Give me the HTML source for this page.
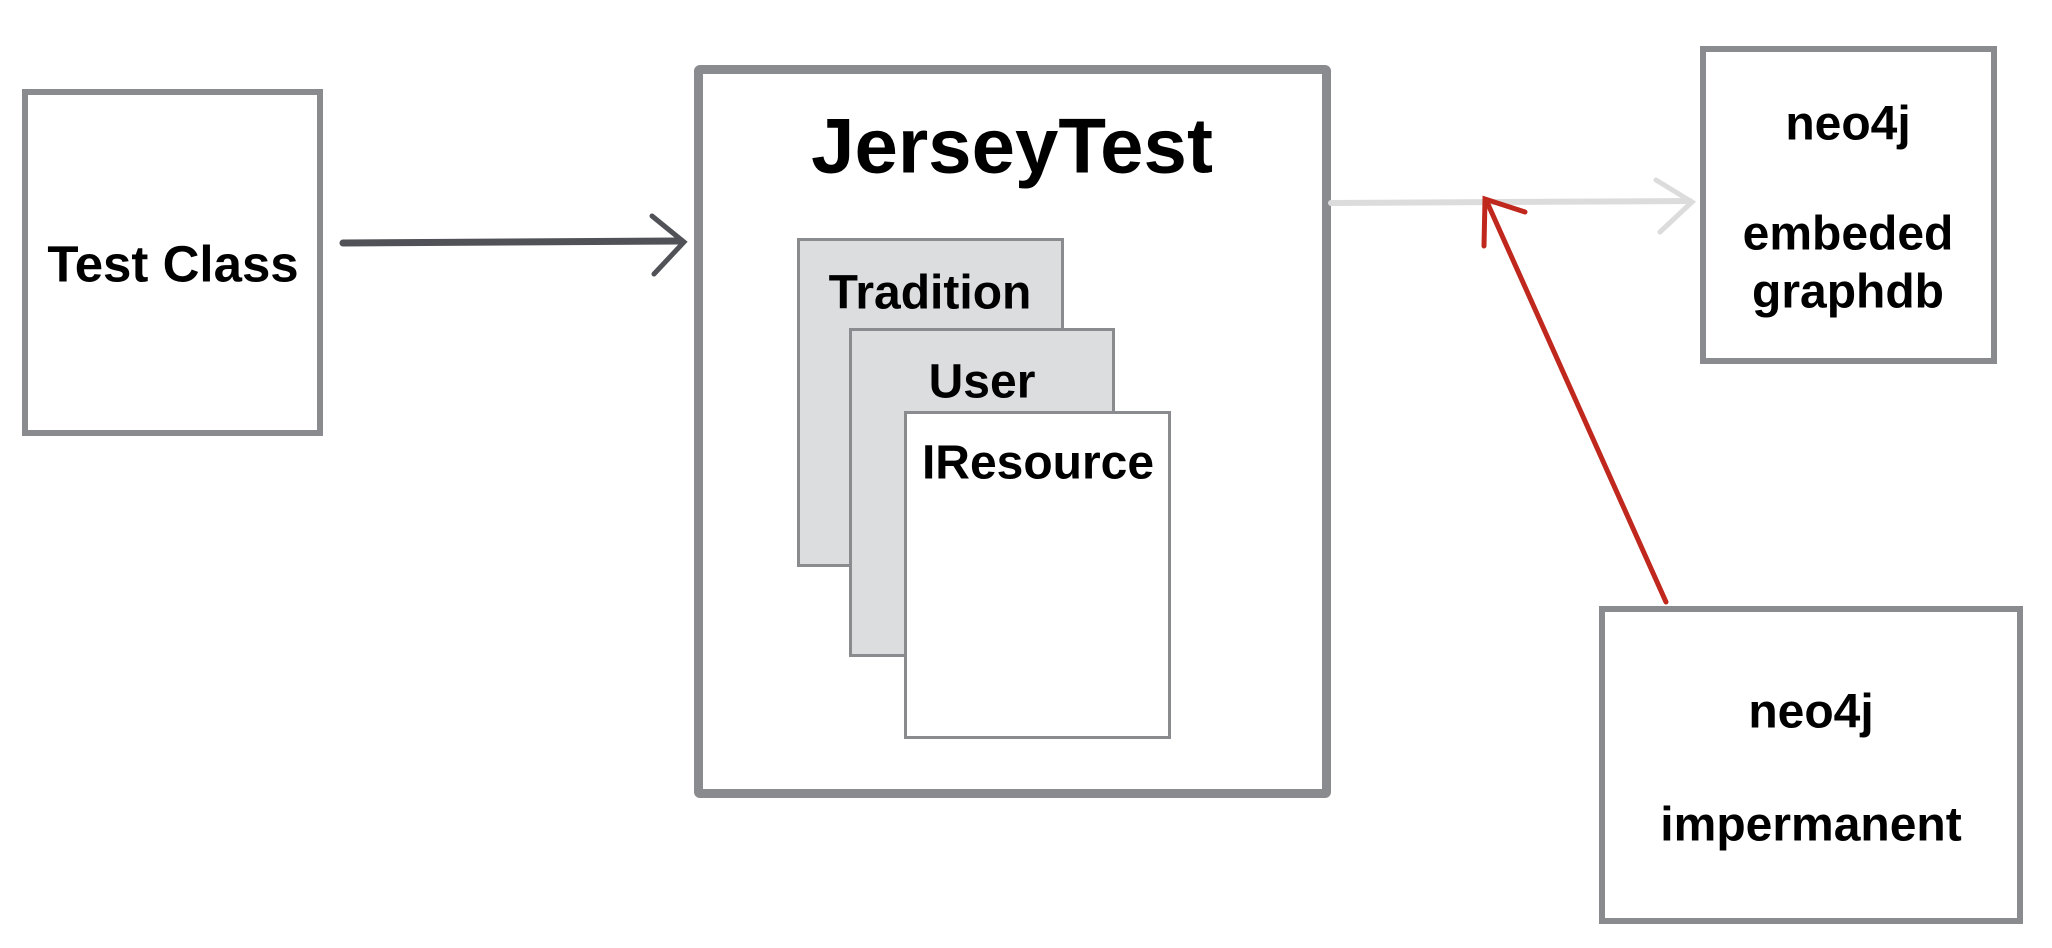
<!DOCTYPE html>
<html><head><meta charset="utf-8"><style>
body{margin:0;width:2052px;height:948px;background:#fff;overflow:hidden;position:relative;font-family:"Liberation Sans",sans-serif;font-weight:bold;color:#000}
.b{position:absolute;box-sizing:border-box}
.t{position:absolute;transform:translate(-50%,-50%);white-space:nowrap}
</style></head><body>
<div class="b" style="left:22px;top:89px;width:301px;height:347px;border:6px solid #8a8b8e"></div>
<div class="b" style="left:694px;top:65px;width:637px;height:733px;border:9px solid #8a8b8e;border-radius:6px"></div>
<div class="b" style="left:797px;top:238px;width:267px;height:329px;border:3px solid #8a8b8e;background:#dcdddf"></div>
<div class="b" style="left:849px;top:328px;width:266px;height:329px;border:3px solid #8a8b8e;background:#dcdddf"></div>
<div class="b" style="left:904px;top:411px;width:267px;height:328px;border:3px solid #8a8b8e;background:#fff"></div>
<div class="b" style="left:1700px;top:46px;width:297px;height:318px;border:6px solid #8a8b8e"></div>
<div class="b" style="left:1599px;top:606px;width:424px;height:318px;border:6px solid #8a8b8e"></div>
<svg class="b" style="left:0;top:0" width="2052" height="948">
<g fill="none" stroke-linecap="round">
<path d="M343 243 L680 241" stroke="#505257" stroke-width="7"/>
<path d="M652 216 L684 242 L654 274" stroke="#505257" stroke-width="5"/>
<path d="M1331 203 L1690 201" stroke="#dcdcdc" stroke-width="6"/>
<path d="M1656 180 L1692 202 L1660 232" stroke="#dcdcdc" stroke-width="5"/>
<path d="M1666 602 L1487 202" stroke="#c0281e" stroke-width="5"/>
<path d="M1484 246 L1485 199 L1525 212" stroke="#c0281e" stroke-width="5"/>
</g></svg>
<div class="t" style="left:173px;top:264px;font-size:51px">Test Class</div>
<div class="t" style="left:1012px;top:146px;font-size:78px">JerseyTest</div>
<div class="t" style="left:930px;top:293px;font-size:48px">Tradition</div>
<div class="t" style="left:982px;top:382px;font-size:48px">User</div>
<div class="t" style="left:1038px;top:463px;font-size:48px">IResource</div>
<div class="t" style="left:1848px;top:124px;font-size:48px">neo4j</div>
<div class="t" style="left:1848px;top:234px;font-size:48px">embeded</div>
<div class="t" style="left:1848px;top:292px;font-size:48px">graphdb</div>
<div class="t" style="left:1811px;top:712px;font-size:48px">neo4j</div>
<div class="t" style="left:1811px;top:825px;font-size:48px">impermanent</div>
</body></html>
